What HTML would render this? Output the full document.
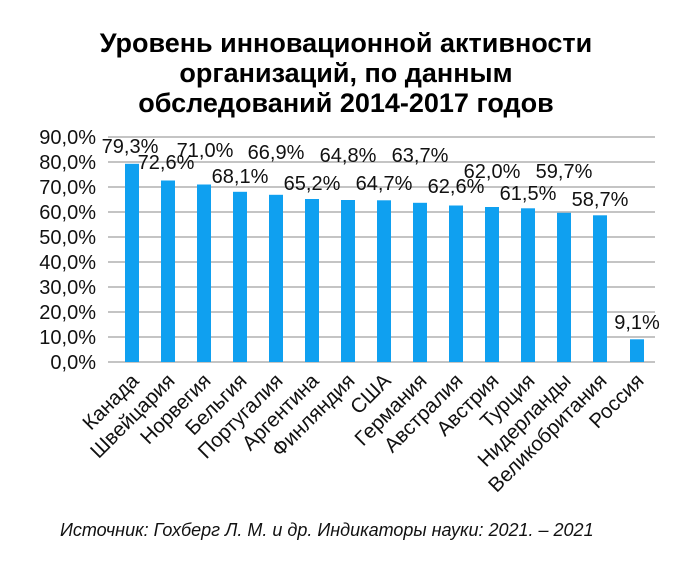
<!DOCTYPE html>
<html><head><meta charset="utf-8"><style>
body{margin:0;background:#fff;width:691px;height:557px;overflow:hidden}
</style></head><body>
<svg width="691" height="557" xmlns="http://www.w3.org/2000/svg" font-family="Liberation Sans, sans-serif">
<g font-size="27" font-weight="bold" text-anchor="middle" fill="#000">
<text x="346" y="52">Уровень инновационной активности</text>
<text x="346" y="82">организаций, по данным</text>
<text x="346" y="112">обследований 2014-2017 годов</text>
</g>
<g stroke="#a0a0a0" stroke-width="1.3">
<line x1="108" x2="655" y1="137" y2="137"/><line x1="108" x2="655" y1="162" y2="162"/>
<line x1="108" x2="655" y1="187" y2="187"/><line x1="108" x2="655" y1="212" y2="212"/>
<line x1="108" x2="655" y1="237" y2="237"/><line x1="108" x2="655" y1="262" y2="262"/>
<line x1="108" x2="655" y1="287" y2="287"/><line x1="108" x2="655" y1="312" y2="312"/>
<line x1="108" x2="655" y1="337" y2="337"/><line x1="108" x2="655" y1="362" y2="362"/>
</g>
<g font-size="20" text-anchor="end" fill="#111">
<text x="96" y="144">90,0%</text><text x="96" y="169">80,0%</text><text x="96" y="194">70,0%</text>
<text x="96" y="219">60,0%</text><text x="96" y="244">50,0%</text><text x="96" y="269">40,0%</text>
<text x="96" y="294">30,0%</text><text x="96" y="319">20,0%</text><text x="96" y="344">10,0%</text>
<text x="96" y="369">0,0%</text>
</g>
<g fill="#0fa0f0">
<rect x="125" y="163.8" width="14" height="198.2"/>
<rect x="161" y="180.5" width="14" height="181.5"/>
<rect x="197" y="184.5" width="14" height="177.5"/>
<rect x="233" y="191.8" width="14" height="170.2"/>
<rect x="269" y="194.8" width="14" height="167.2"/>
<rect x="305" y="199" width="14" height="163"/>
<rect x="341" y="200" width="14" height="162"/>
<rect x="377" y="200.3" width="14" height="161.7"/>
<rect x="413" y="202.8" width="14" height="159.2"/>
<rect x="449" y="205.5" width="14" height="156.5"/>
<rect x="485" y="207" width="14" height="155"/>
<rect x="521" y="208.3" width="14" height="153.7"/>
<rect x="557" y="212.8" width="14" height="149.2"/>
<rect x="593" y="215.3" width="14" height="146.7"/>
<rect x="630" y="339.3" width="14" height="22.7"/>
</g>
<g font-size="20" text-anchor="middle" fill="#111">
<text x="130" y="153">79,3%</text><text x="166" y="169">72,6%</text><text x="205" y="157">71,0%</text>
<text x="240" y="183">68,1%</text><text x="276" y="159">66,9%</text><text x="312" y="190">65,2%</text>
<text x="348" y="162">64,8%</text><text x="384" y="190">64,7%</text><text x="420" y="162">63,7%</text>
<text x="456" y="193">62,6%</text><text x="492" y="178">62,0%</text><text x="528" y="200">61,5%</text>
<text x="564" y="178">59,7%</text><text x="600" y="206">58,7%</text><text x="637" y="329">9,1%</text>
</g>
<g font-size="20.5" text-anchor="end" fill="#111">
<text transform="translate(140,382) rotate(-45)">Канада</text>
<text transform="translate(176,382) rotate(-45)">Швейцария</text>
<text transform="translate(212,382) rotate(-45)">Норвегия</text>
<text transform="translate(248,382) rotate(-45)">Бельгия</text>
<text transform="translate(284,382) rotate(-45)">Португалия</text>
<text transform="translate(320,382) rotate(-45)">Аргентина</text>
<text transform="translate(356,382) rotate(-45)">Финляндия</text>
<text transform="translate(392,382) rotate(-45)">США</text>
<text transform="translate(428,382) rotate(-45)">Германия</text>
<text transform="translate(464,382) rotate(-45)">Австралия</text>
<text transform="translate(500,382) rotate(-45)">Австрия</text>
<text transform="translate(536,382) rotate(-45)">Турция</text>
<text transform="translate(572,382) rotate(-45)">Нидерланды</text>
<text transform="translate(608,382) rotate(-45)">Великобритания</text>
<text transform="translate(645,382) rotate(-45)">Россия</text>
</g>
<text x="60" y="536" font-size="18" font-style="italic" fill="#111">Источник: Гохберг Л. М. и др. Индикаторы науки: 2021. – 2021</text>
</svg>
</body></html>
